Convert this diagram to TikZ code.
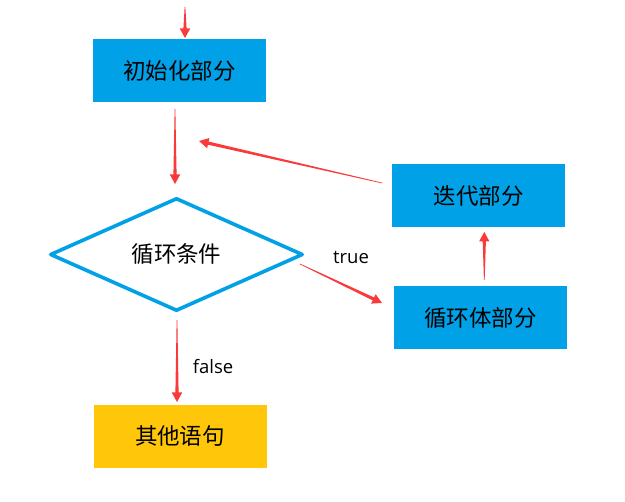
\documentclass[tikz,border=0pt]{standalone}
\usepackage{fontspec}
\setmainfont{Open Sans}
\newfontfamily\cjk{Noto Sans CJK SC}
\usetikzlibrary{shapes.geometric,calc}
\definecolor{boxblue}{RGB}{0,161,231}
\definecolor{boxyellow}{RGB}{255,198,10}
\definecolor{arrowred}{RGB}{250,58,58}
\tikzset{
  stepbox/.style={rectangle, draw=none, fill=boxblue, minimum width=173pt, minimum height=63pt,
    inner sep=0pt, font=\cjk\fontsize{22.5}{26}\selectfont, text=black},
  endbox/.style={stepbox, fill=boxyellow},
  decision/.style={diamond, draw=boxblue, fill=white, line width=3.6pt, line join=round,
    minimum width=253pt, minimum height=113pt, inner sep=0pt,
    font=\cjk\fontsize{22.5}{26}\selectfont, text=black},
  edgelabel/.style={font=\fontsize{18.5}{22}\selectfont, text=black, inner sep=0pt}
}
% tapered arrow: thin at the start, widening to a solid head at the end
\newcommand\taperarrow[2]{%
  \coordinate (hb) at ($(#2)!9.5pt!(#1)$);
  \fill[arrowred]
    ($(#1)!0.35pt!90:(#2)$) -- ($(hb)!1.6pt!90:(#2)$) -- ($(hb)!5.2pt!90:(#2)$) --
    (#2) -- ($(hb)!5.2pt!-90:(#2)$) -- ($(hb)!1.6pt!-90:(#2)$) --
    ($(#1)!0.35pt!-90:(#2)$) -- cycle;
}
\begin{document}
\begin{tikzpicture}[x=1pt,y=-1pt]
  \useasboundingbox (0,0) rectangle (625,502);
  \fill[white] (0,0) rectangle (625,502);

  \node[stepbox]  (init) at (179.5,70.5)  {初始化部分};
  \node[decision] (cond) at (176.5,254.5) {循环条件};
  \node[stepbox]  (body) at (480.5,318)   {循环体部分};
  \node[stepbox]  (iter) at (478.5,196)   {迭代部分};
  \node[endbox]   (rest) at (180,436.5)   {其他语句};

  \node[edgelabel] (ltrue)  at (351,257) {true};
  \node[edgelabel] (lfalse) at (213,367) {false};

  % arrow end points, just clear of the shapes they connect
  \coordinate (entry)   at (185,7);
  \coordinate (entryE)  at (185,38);
  \coordinate (initS)   at (175,109);
  \coordinate (condN)   at (175,184);
  \coordinate (condE)   at (300,264);
  \coordinate (bodyW)   at (382,303);
  \coordinate (bodyN)   at (484.3,280);
  \coordinate (iterS)   at (484.3,232);
  \coordinate (iterW)   at (382,183);
  \coordinate (loopE)   at (199,141);
  \coordinate (condS)   at (177,320);
  \coordinate (restN)   at (177,402);

  \taperarrow{entry}{entryE}
  \taperarrow{initS}{condN}
  \taperarrow{condE}{bodyW}
  \taperarrow{bodyN}{iterS}
  \taperarrow{iterW}{loopE}
  \taperarrow{condS}{restN}
\end{tikzpicture}
\end{document}
